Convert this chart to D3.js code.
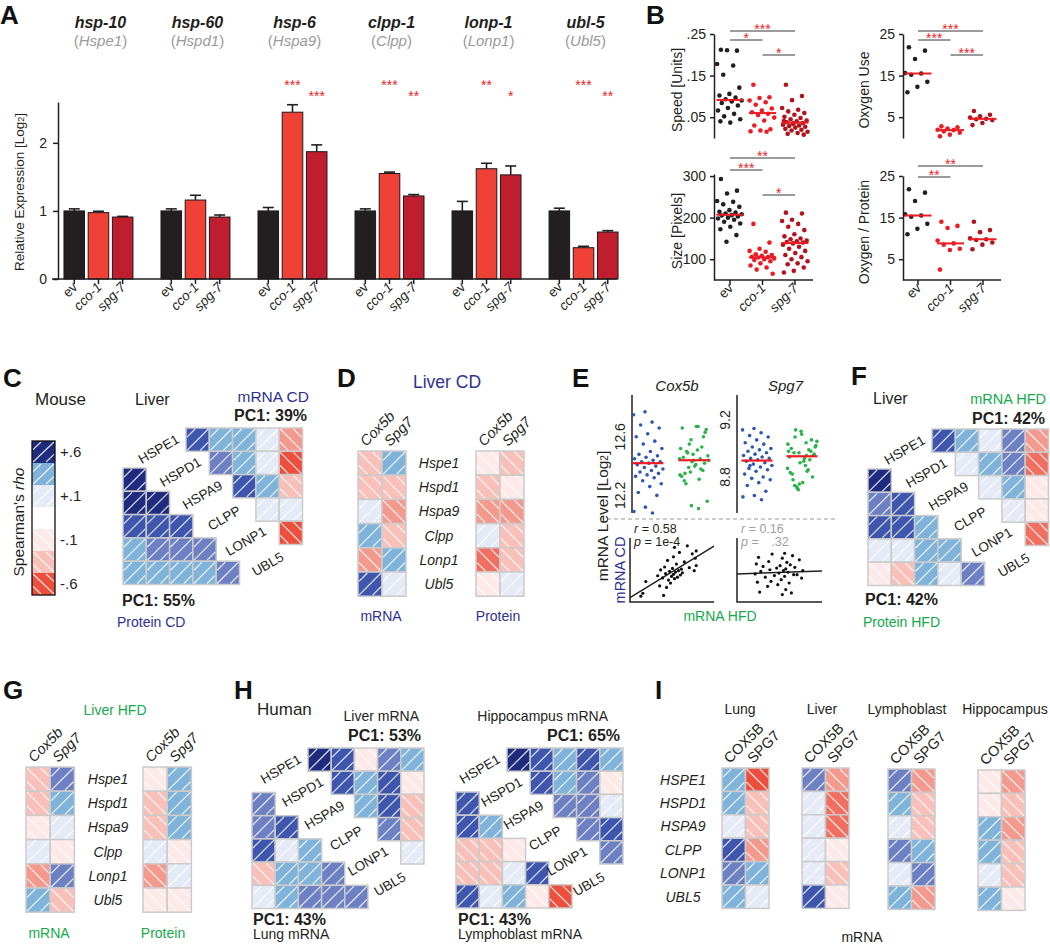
<!DOCTYPE html>
<html><head><meta charset="utf-8">
<script src="https://cdn.jsdelivr.net/npm/d3@7/dist/d3.min.js"></script>
<style>html,body{margin:0;padding:0;background:#fff}svg text{font-family:"Liberation Sans",Arial,Helvetica,sans-serif}</style>
</head><body>
<svg id="fig" width="1050" height="944" xmlns="http://www.w3.org/2000/svg"></svg>
<script>
// ================= DATA =================
// Panel A
const genesA = ["hsp-10","hsp-60","hsp-6","clpp-1","lonp-1","ubl-5"];
const orthologsA = ["Hspe1","Hspd1","Hspa9","Clpp","Lonp1","Ubl5"];
const conditions = ["ev","cco-1","spg-7"];
const exprEv  = [1.00,1.00,1.00,1.00,1.00,1.00];
const exprCco = [0.975,1.16,2.45,1.55,1.62,0.46];
const exprSpg = [0.91,0.91,1.87,1.22,1.53,0.69];
const errEv  = [0.03,0.03,0.05,0.03,0.14,0.04];
const errCco = [0.02,0.07,0.11,0.02,0.08,0.02];
const errSpg = [0.01,0.03,0.10,0.02,0.13,0.02];
const starsCco = ["","","***","***","**","***"];
const starsSpg = ["","","***","**","*","**"];
const ticksA = [0,1,2];

// Panel B
const speedEv  = [0.212,0.210,0.211,0.178,0.174,0.152,0.121,0.106,0.102,0.097,0.093,0.090,0.088,0.084,0.078,0.072,0.066,0.058,0.052,0.045,0.037,0.040];
const speedCco = [0.128,0.098,0.096,0.090,0.086,0.080,0.071,0.066,0.062,0.058,0.055,0.049,0.042,0.030,0.021,0.018,0.016,0.015];
const speedSpg = [0.128,0.101,0.091,0.072,0.068,0.064,0.060,0.056,0.051,0.048,0.045,0.042,0.040,0.038,0.036,0.034,0.032,0.030,0.029,0.027,0.025,0.022,0.020,0.018,0.015,0.012,0.010,0.008,0.036,0.041];
const sizeEv  = [293,265,258,240,238,232,226,218,214,212,210,208,206,205,203,200,198,195,190,186,178,172,158,142];
const sizeCco = [185,140,125,120,118,112,110,108,106,105,104,102,100,98,95,90,85,80,75,65];
const sizeSpg = [212,210,195,192,185,178,170,160,155,150,148,145,143,141,140,138,135,130,125,120,115,110,105,100,95,90,88,80,72,68];
const o2Ev  = [21.8,21.0,19.0,15.6,15.5,15.2,13.5,12.3,11.0];
const o2Cco = [2.8,2.6,2.3,2.0,1.9,1.6,1.3,0.8,0.4];
const o2Spg = [6.5,5.6,5.2,4.9,4.6,4.5,4.3,3.6,3.1];
const o2pEv  = [21.8,21.0,19.0,15.8,15.5,15.2,13.5,12.3,11.0];
const o2pCco = [14.0,13.0,12.5,9.5,8.8,8.5,7.5,7.2,2.5];
const o2pSpg = [14.0,12.0,11.5,10.0,9.8,9.6,9.0,8.5,7.4];
const speedTicks = [0.05,0.15,0.25];
const sizeTicks = [100,200,300];
const o2Ticks = [5,15,25];
const sigSpeed = [["ev","spg-7","***"],["ev","cco-1","*"],["cco-1","spg-7","*"]];
const sigSize  = [["ev","spg-7","**"],["ev","cco-1","***"],["cco-1","spg-7","*"]];
const sigO2    = [["ev","spg-7","***"],["ev","cco-1","***"],["cco-1","spg-7","***"]];
const sigO2p   = [["ev","spg-7","**"],["ev","cco-1","**"]];

// Panel C / F / H  (Spearman rho, upper and lower triangles)
const humanGenes = ["HSPE1","HSPD1","HSPA9","CLPP","LONP1","UBL5"];
const mouseGenes = ["Hspe1","Hspd1","Hspa9","Clpp","Lonp1","Ubl5"];
const legendRho = [0.7,0.3,0.08,0,-0.08,-0.22,-0.6];
const legendLabels = ["+.6","+.1","-.1","-.6"];
const cdMrnaRho = [[0.56,0.3,0.3,0.08,-0.36],[0.45,0.3,0.08,-0.58],[0.56,0.3,-0.22],[0.08,0.08],[-0.58]];
const cdProteinRho = [[0.7],[0.7,0.7],[0.56,0.56,0.56],[0.3,0.45,0.45,0.45],[0.3,0.3,0.3,0.3,0.45]];
const hfdMrnaRho = [[0.56,0.3,0.08,0.45,-0.36],[0.08,0.3,0.45,-0.46],[0.08,0.3,-0.08],[0.08,-0.08],[-0.46]];
const hfdProteinRho = [[0.7],[0.45,0.56],[0.56,0.56,0.3],[0.08,0.08,0.3,0.3],[-0.08,-0.22,0.3,0.08,0.45]];
const hLiverRho = [[0.7,0.56,-0.08,0.45,0.3],[0.56,0.3,0.56,-0.08],[0.3,0.6,-0.22],[0.45,-0.22],[0.08]];
const hLungRho = [[0.45],[0.45,0.56],[0.56,0.08,0.3],[-0.22,0.3,0.3,0.45],[0.08,0.3,0.45,0.45,0.45]];
const hHippoRho = [[0.7,0.56,0.3,0.6,0.3],[0.56,0.3,0.45,-0.08],[0.45,0.45,0.08],[0.45,0.56],[0.45]];
const hLymphoRho = [[0.56],[0.6,0.3],[-0.22,-0.22,-0.08],[-0.22,-0.22,0.08,0.56],[0.56,0.08,0.3,-0.08,-0.58]];

// Panel D / G
const dMrnaCox = [-0.22,-0.22,0.08,0.3,-0.36,0.56];
const dMrnaSpg = [0.3,-0.22,-0.36,-0.22,0.3,0.08];
const dProtCox = [-0.08,-0.22,-0.36,0.08,-0.46,-0.08];
const dProtSpg = [-0.22,-0.08,-0.36,-0.22,-0.22,0.08];
const gMrnaCox = [-0.22,-0.22,-0.08,0.08,-0.36,0.3];
const gMrnaSpg = [0.45,0.3,0.08,-0.08,0.45,-0.22];
const gProtCox = [-0.08,-0.22,-0.22,0.08,-0.36,-0.08];
const gProtSpg = [0.3,0.3,0.3,-0.08,0.08,-0.08];

// Panel I
const tissuesI = ["Lung","Liver","Lymphoblast","Hippocampus"];
const lungCox = [0.3,0.3,0.08,0.56,0.45,0.3];
const lungSpg = [-0.58,-0.22,-0.22,-0.36,0.3,0.08];
const liverCox = [0.45,0.08,0.08,0.08,0.08,0.6];
const liverSpg = [-0.36,-0.46,-0.46,-0.08,-0.22,-0.08];
const lymphoCox = [0.45,0.3,0.08,0.45,0.08,0.3];
const lymphoSpg = [-0.36,-0.22,-0.22,0.3,0.45,-0.36];
const hippoCox = [-0.08,-0.08,0.3,0.3,0.08,0.3];
const hippoSpg = [-0.36,-0.22,-0.36,-0.22,-0.22,-0.08];

// Panel E (mRNA log2, CD = blue, HFD = green, paired by mouse)
const cox5bCD  = [12.77,12.75,12.70,12.68,12.66,12.62,12.60,12.57,12.55,12.52,12.50,12.48,12.47,12.46,12.45,12.44,12.43,12.43,12.42,12.41,12.40,12.39,12.38,12.37,12.36,12.35,12.34,12.33,12.32,12.30,12.28,12.26,12.22,12.20,12.12,12.09,12.08];
const cox5bHFD = [12.58,12.45,12.67,12.50,12.63,12.44,12.66,12.38,12.55,12.47,12.67,12.35,12.60,12.43,12.52,12.31,12.49,12.65,12.40,12.46,12.53,12.36,12.44,12.51,12.28,12.42,12.48,12.33,12.45,12.39,12.16,12.41,12.30,12.37,12.13,12.34,12.11];
const spg7CD  = [9.14,9.13,9.11,9.09,9.08,9.06,9.04,9.03,9.01,9.00,8.99,8.98,8.97,8.96,8.95,8.94,8.93,8.93,8.92,8.91,8.90,8.89,8.88,8.87,8.86,8.85,8.84,8.82,8.80,8.79,8.78,8.76,8.74,8.70,8.67,8.66,8.64,8.88];
const spg7HFD = [8.97,8.86,9.04,8.74,8.95,9.10,8.83,8.99,8.72,9.02,8.93,8.78,9.06,8.90,8.98,8.84,9.13,8.96,8.76,9.00,8.92,8.71,9.05,8.88,8.97,8.80,9.12,8.94,8.85,8.73,9.01,8.91,8.82,8.98,8.75,9.03,8.95,9.08];
const corrText = [["0.58","1e-4"],["0.16",".32"]];

// ================= DRAWING =================
const svg = d3.select("#fig");
const INK = "#231f20", BLUE_T = "#2e3192", GREEN_T = "#14a94b", RED_S = "#ed1c24";
const barColors = ["#231f20","#ef4136","#be1e2d"];
const dotColors = ["#231f20","#ec1c24","#b3121c"];

function T(g, x, y, s, o = {}) {
  const t = g.append("text").attr("x", x).attr("y", y).text(s)
    .attr("font-size", o.size || 14).attr("fill", o.fill || INK)
    .attr("text-anchor", o.anchor || "start");
  if (o.weight) t.attr("font-weight", o.weight);
  if (o.italic) t.attr("font-style", "italic");
  if (o.rotate !== undefined) t.attr("transform", `rotate(${o.rotate},${x},${y})`);
  if (o.dy) t.attr("dy", o.dy);
  return t;
}
function styleAxis(ax, fs) {
  ax.attr("font-family", null).attr("font-size", null);
  ax.select(".domain").attr("stroke", INK).attr("stroke-width", 1.5);
  ax.selectAll(".tick line").attr("stroke", INK).attr("stroke-width", 1.5);
  ax.selectAll(".tick text").attr("font-size", fs).attr("fill", INK);
}

const rhoColor = d3.scaleThreshold()
  .domain([-0.5,-0.42,-0.3,-0.15,-0.03,0.03,0.15,0.38,0.5,0.63])
  .range(["#ee4f3c","#f16f60","#f4998d","#f8c0b8","#fde9e7","#ffffff","#e4eaf6","#80b3da","#6d80c4","#3e56ad","#1f2b7e"]);

function hatchPath(x, y, w, h, v) {
  if (Math.abs(v) < 0.03) return "";
  if (v > 0) return `M${x},${y+h}L${x+w},${y}M${x},${y+h*0.38}L${x+w*0.38},${y}M${x+w*0.62},${y+h}L${x+w},${y+h*0.62}`;
  return `M${x},${y}L${x+w},${y+h}M${x},${y+h*0.62}L${x+w*0.38},${y+h}M${x+w*0.62},${y}L${x+w},${y+h*0.38}`;
}
function cell(g, x, y, w, h, v, border = true) {
  g.append("rect").attr("x", x).attr("y", y).attr("width", w).attr("height", h)
    .attr("fill", rhoColor(v)).attr("stroke", border ? "#cbcbcb" : "none").attr("stroke-width", 1.5);
  g.append("path").attr("d", hatchPath(x + 1, y + 1, w - 2, h - 2, v))
    .attr("stroke", "#fff").attr("stroke-width", 1.2).attr("stroke-opacity", 0.85).attr("fill", "none");
}

// panel letters
[["A",0,24],["B",646,24],["C",3,387],["D",337,387],["E",572,387],["F",851,385],["G",3,699],["H",234,699],["I",655,699]]
  .forEach(d => T(svg, d[1], d[2], d[0], {size: 26, weight: "bold", fill: "#111"}));

// ---------- Panel A ----------
const gA = svg.append("g");
const xA = d3.scaleBand().domain(genesA).range([50, 632]).paddingInner(0.289).paddingOuter(0.144);
const xAi = d3.scaleBand().domain(conditions).range([0, xA.bandwidth()]).paddingInner(0.15);
const yA = d3.scaleLinear().domain([0, 2.6]).range([279, 102]);
const seriesA = [exprEv, exprCco, exprSpg], errA = [errEv, errCco, errSpg], starsA = [null, starsCco, starsSpg];
genesA.forEach((gn, gi) => {
  conditions.forEach((c, ci) => {
    const v = seriesA[ci][gi], e = errA[ci][gi];
    const x = xA(gn) + xAi(c), w = xAi.bandwidth(), cx = x + w / 2;
    gA.append("line").attr("x1", cx).attr("x2", cx).attr("y1", yA(v)).attr("y2", yA(v + e)).attr("stroke", INK).attr("stroke-width", 1.6);
    gA.append("line").attr("x1", cx - 5.5).attr("x2", cx + 5.5).attr("y1", yA(v + e)).attr("y2", yA(v + e)).attr("stroke", INK).attr("stroke-width", 1.6);
    gA.append("rect").attr("x", x).attr("y", yA(v)).attr("width", w).attr("height", yA(0) - yA(v))
      .attr("fill", barColors[ci]).attr("stroke", "#1a1a1a").attr("stroke-width", 1);
    gA.append("line").attr("x1", cx).attr("x2", cx).attr("y1", 279).attr("y2", 284).attr("stroke", INK).attr("stroke-width", 1.5);
    T(gA, cx + 4, 288, c, {size: 13.5, anchor: "end", rotate: -45, italic: c !== "ev"});
    if (ci > 0 && starsA[ci][gi]) T(gA, cx, ci === 1 ? 90 : 101, starsA[ci][gi], {size: 14, fill: RED_S, anchor: "middle"});
  });
  const gc = xA(gn) + xA.bandwidth() / 2 + 2;
  T(gA, gc, 28, gn, {size: 16, weight: "bold", italic: true, anchor: "middle"});
  const t = T(gA, gc, 46, "(", {size: 15, fill: "#9a9a9a", anchor: "middle"});
  t.append("tspan").attr("font-style", "italic").text(orthologsA[gi]);
  t.append("tspan").text(")");
});
gA.append("line").attr("x1", 52).attr("x2", 617).attr("y1", 279).attr("y2", 279).attr("stroke", INK).attr("stroke-width", 1.5);
const axA = gA.append("g").attr("transform", "translate(58,0)")
  .call(d3.axisLeft(yA).tickValues(ticksA).tickFormat(d3.format("d")).tickSize(5).tickSizeOuter(0).tickPadding(6));
styleAxis(axA, 14);
{
  const t = T(gA, 24, 192, "Relative Expression [Log", {size: 13.5, anchor: "middle", rotate: -90});
  t.append("tspan").attr("font-size", 9).text("2");
  t.append("tspan").text("]");
}

// ---------- Panel B ----------
const plotsB = [
  {label: "Speed [Units]", groups: [speedEv, speedCco, speedSpg], domain: [0, 0.25], range: [138, 34], ax: 714, xr: [730, 795], ticks: speedTicks, fmt: d => d3.format(".2f")(d).slice(1), sig: sigSpeed, sigY: [31, 40, 55], labelX: 677, xAxis: false},
  {label: "Size [Pixels]", groups: [sizeEv, sizeCco, sizeSpg], domain: [50, 305], range: [280, 174], ax: 714, xr: [730, 795], ticks: sizeTicks, fmt: d3.format("d"), sig: sigSize, sigY: [158, 170, 195], labelX: 677, xAxis: true},
  {label: "Oxygen Use", groups: [o2Ev, o2Cco, o2Spg], domain: [0, 25], range: [138, 34], ax: 903, xr: [918, 983], ticks: o2Ticks, fmt: d3.format("d"), sig: sigO2, sigY: [31, 40, 55], labelX: 864, xAxis: false},
  {label: "Oxygen / Protein", groups: [o2pEv, o2pCco, o2pSpg], domain: [0, 25], range: [280, 176], ax: 903, xr: [918, 983], ticks: o2Ticks, fmt: d3.format("d"), sig: sigO2p, sigY: [166, 177], labelX: 864, xAxis: true}
];
plotsB.forEach(p => {
  const g = svg.append("g");
  const y = d3.scaleLinear().domain(p.domain).range(p.range);
  const x = d3.scalePoint().domain(conditions).range(p.xr);
  const ax = g.append("g").attr("transform", `translate(${p.ax},0)`)
    .call(d3.axisLeft(y).tickValues(p.ticks).tickFormat(p.fmt).tickSize(4).tickSizeOuter(0).tickPadding(4));
  styleAxis(ax, 14);
  if (p.xAxis) {
    const yb = p.range[0];
    g.append("line").attr("x1", p.ax).attr("x2", p.xr[1] + 18).attr("y1", yb).attr("y2", yb).attr("stroke", INK).attr("stroke-width", 1.5);
    conditions.forEach(c => {
      g.append("line").attr("x1", x(c)).attr("x2", x(c)).attr("y1", yb).attr("y2", yb + 5).attr("stroke", INK).attr("stroke-width", 1.5);
      T(g, x(c) + 4, yb + 9, c, {size: 13.5, anchor: "end", rotate: -45, italic: c !== "ev"});
    });
  }
  p.groups.forEach((arr, ci) => {
    const c = conditions[ci];
    arr.forEach((v, i) => {
      const jit = (((i * 0.6180339887) + 0.15) % 1 - 0.5) * 26;
      g.append("circle").attr("cx", x(c) + jit).attr("cy", y(v)).attr("r", 2.3).attr("fill", dotColors[ci]);
    });
    const m = d3.median(arr);
    g.append("line").attr("x1", x(c) - 13.5).attr("x2", x(c) + 13.5).attr("y1", y(m)).attr("y2", y(m)).attr("stroke", RED_S).attr("stroke-width", 2);
  });
  p.sig.forEach((s, k) => {
    const yy = p.sigY[k];
    g.append("line").attr("x1", x(s[0])).attr("x2", x(s[1])).attr("y1", yy).attr("y2", yy).attr("stroke", "#7a7a7a").attr("stroke-width", 1.3);
    T(g, (x(s[0]) + x(s[1])) / 2, yy + 3, s[2], {size: 14, fill: RED_S, anchor: "middle"});
  });
  T(g, p.labelX, (p.range[0] + p.range[1]) / 2 + 4, p.label, {size: 14, anchor: "middle", rotate: -90, dy: "0.35em"});
});

// ---------- Panel C ----------
const gC = svg.append("g");
T(gC, 35, 405, "Mouse", {size: 17});
{
  const yL = d3.scaleBand().domain(d3.range(legendRho.length)).range([441, 595]);
  legendRho.forEach((v, i) => cell(gC, 32, yL(i), 23, yL.bandwidth(), v, false));
  gC.append("rect").attr("x", 32).attr("y", 441).attr("width", 23).attr("height", 154).attr("fill", "none").attr("stroke", "#111").attr("stroke-width", 1.3);
  legendLabels.forEach((l, k) => T(gC, 60, yL(k * 2) + yL.bandwidth() / 2, l, {size: 15, dy: "0.35em"}));
  const t = T(gC, 19, 522, "Spearman's ", {size: 15.5, anchor: "middle", rotate: -90, dy: "0.35em"});
  t.append("tspan").attr("font-style", "italic").text("rho");
}
function triangle(g, genes, upper, lower, ux0, uy0, lx0, ly0, s) {
  const xu = d3.scaleBand().domain(genes).range([ux0, ux0 + 6 * s]);
  const yu = d3.scaleBand().domain(genes).range([uy0, uy0 + 6 * s]);
  upper.forEach((row, i) => row.forEach((v, k) => cell(g, xu(genes[i + 1 + k]), yu(genes[i]), s, s, v)));
  const xl = d3.scaleBand().domain(genes).range([lx0, lx0 + 6 * s]);
  const yl = d3.scaleBand().domain(genes).range([ly0 - s, ly0 + 5 * s]);
  lower.forEach((row, k) => row.forEach((v, j) => cell(g, xl(genes[j]), yl(genes[k + 1]), s, s, v)));
  genes.forEach((gn, i) => T(g, ux0 - 4 + i * 21.8, uy0 + 21 + i * 23, gn, {size: 13.5, anchor: "middle", rotate: -30, dy: "0.35em"}));
}
triangle(gC, humanGenes, cdMrnaRho, cdProteinRho, 162.7, 428, 123, 468, 23.3);
T(gC, 135, 405, "Liver", {size: 16});
T(gC, 309, 402, "mRNA CD", {size: 15.5, fill: BLUE_T, anchor: "end"});
T(gC, 307, 421, "PC1: 39%", {size: 16, weight: "bold", anchor: "end"});
T(gC, 122, 606, "PC1: 55%", {size: 16, weight: "bold"});
T(gC, 117, 627, "Protein CD", {size: 14, fill: BLUE_T});

// ---------- column heatmaps (D, G, I) ----------
function colHeat(g, x0, y0, cw, ch, cols, colNames, italic) {
  const xs = d3.scaleBand().domain(colNames).range([x0, x0 + cw * colNames.length]);
  const ys = d3.scaleBand().domain(d3.range(cols[0].length)).range([y0, y0 + ch * cols[0].length]);
  cols.forEach((arr, ci) => arr.forEach((v, ri) => cell(g, xs(colNames[ci]), ys(ri), cw, ch, v)));
  colNames.forEach(cn => T(g, xs(cn) + cw / 2 - 4, y0 - 4, cn, {size: 14.5, italic: italic, rotate: -45}));
  return ys;
}
function rowLabels(g, cx, ys, names, italic) {
  names.forEach((n, i) => T(g, cx, ys(i) + ys.bandwidth() / 2, n, {size: 14, italic: italic, anchor: "middle", dy: "0.35em"}));
}
// D
const gD = svg.append("g");
T(gD, 447, 388, "Liver CD", {size: 17.5, fill: BLUE_T, anchor: "middle"});
const ysD = colHeat(gD, 358, 451, 24, 24.2, [dMrnaCox, dMrnaSpg], ["Cox5b", "Spg7"], true);
colHeat(gD, 476, 451, 24, 24.2, [dProtCox, dProtSpg], ["Cox5b", "Spg7"], true);
rowLabels(gD, 439, ysD, mouseGenes, true);
T(gD, 381, 621, "mRNA", {size: 14, fill: BLUE_T, anchor: "middle"});
T(gD, 498, 621, "Protein", {size: 14, fill: BLUE_T, anchor: "middle"});
// G
const gG = svg.append("g");
T(gG, 115, 715, "Liver HFD", {size: 14, fill: GREEN_T, anchor: "middle"});
const ysG = colHeat(gG, 26, 767, 24.2, 24.2, [gMrnaCox, gMrnaSpg], ["Cox5b", "Spg7"], true);
colHeat(gG, 143, 767, 24.2, 24.2, [gProtCox, gProtSpg], ["Cox5b", "Spg7"], true);
rowLabels(gG, 108, ysG, mouseGenes, true);
T(gG, 49, 938, "mRNA", {size: 14, fill: GREEN_T, anchor: "middle"});
T(gG, 163, 938, "Protein", {size: 14, fill: GREEN_T, anchor: "middle"});
// I
const gI = svg.append("g");
const iCols = [[lungCox, lungSpg], [liverCox, liverSpg], [lymphoCox, lymphoSpg], [hippoCox, hippoSpg]];
const iX = [722, 802, 888, 978], iY = [768, 768, 769, 770], iTitleX = [740, 822, 907, 1005];
let ysI;
tissuesI.forEach((tn, k) => {
  const ys = colHeat(gI, iX[k], iY[k], 23.5, 23.4, iCols[k], ["COX5B", "SPG7"], false);
  if (k === 0) ysI = ys;
  T(gI, iTitleX[k], 714, tn, {size: 14, anchor: "middle"});
});
rowLabels(gI, 683, ysI, humanGenes, true);
T(gI, 862, 942, "mRNA", {size: 14, anchor: "middle"});

// ---------- Panel E ----------
const gE = svg.append("g");
const stripDefs = [
  {title: "Cox5b", cd: cox5bCD, hfd: cox5bHFD, domain: [12.08, 12.885], ticks: [12.2, 12.6], ax: 632, xc: [648, 694],
   bx: [12.0, 12.85], bxr: [630, 714], corr: corrText[0], tc: INK},
  {title: "Spg7", cd: spg7CD, hfd: spg7HFD, domain: [8.547, 9.375], ticks: [8.8, 9.2], ax: 737, xc: [757, 802],
   bx: [8.55, 9.3], bxr: [737, 822], corr: corrText[1], tc: "#a0a0a0"}
];
stripDefs.forEach(s => {
  const y = d3.scaleLinear().domain(s.domain).range([513, 395]);
  gE.append("line").attr("x1", s.ax).attr("x2", s.ax).attr("y1", 395).attr("y2", 513).attr("stroke", INK).attr("stroke-width", 1.5);
  s.ticks.forEach(tv => T(gE, s.ax - 12, y(tv), d3.format(".1f")(tv), {size: 14, anchor: "middle", rotate: -90, dy: "0.35em"}));
  [[s.cd, "#2f56b0"], [s.hfd, "#2bb34a"]].forEach((pair, k) => {
    pair[0].forEach((v, i) => {
      const jit = (((i * 0.6180339887) + 0.4) % 1 - 0.5) * 30;
      gE.append("circle").attr("cx", s.xc[k] + jit).attr("cy", y(v)).attr("r", 1.8).attr("fill", pair[1]);
    });
    const m = d3.median(pair[0]);
    gE.append("line").attr("x1", s.xc[k] - 15.5).attr("x2", s.xc[k] + 15.5).attr("y1", y(m)).attr("y2", y(m)).attr("stroke", RED_S).attr("stroke-width", 2.2);
  });
  T(gE, (s.xc[0] + s.xc[1]) / 2 + 6, 391, s.title, {size: 15, italic: true, anchor: "middle"});
  // bottom scatter
  const bx = d3.scaleLinear().domain(s.bx).range(s.bxr);
  const by = d3.scaleLinear().domain(s.bx).range([602, 540]);
  gE.append("path").attr("d", `M${s.bxr[0]},538V602H${s.bxr[1]}`).attr("fill", "none").attr("stroke", INK).attr("stroke-width", 1.5);
  const mx = d3.mean(s.hfd), my = d3.mean(s.cd);
  const slope = d3.sum(s.hfd, (v, i) => (v - mx) * (s.cd[i] - my)) / d3.sum(s.hfd, v => (v - mx) * (v - mx));
  const yAt = xv => my + slope * (xv - mx);
  gE.append("line").attr("x1", bx(s.bx[0])).attr("x2", bx(s.bx[1])).attr("y1", by(yAt(s.bx[0]))).attr("y2", by(yAt(s.bx[1])))
    .attr("stroke", INK).attr("stroke-width", 1.5);
  s.hfd.forEach((v, i) => gE.append("circle").attr("cx", bx(v)).attr("cy", by(s.cd[i])).attr("r", 1.6).attr("fill", "#111"));
  const r = T(gE, s.bxr[0] + 4, 533, "", {size: 12.5, fill: s.tc});
  r.append("tspan").attr("font-style", "italic").text("r");
  r.append("tspan").text(" = " + s.corr[0]);
  const pt = T(gE, s.bxr[0] + 4, 546, "", {size: 12.5, fill: s.tc});
  pt.append("tspan").attr("font-style", "italic").text("p");
  pt.append("tspan").text(" = ");
  pt.append("tspan").attr("dx", s.title === "Spg7" ? 9 : 0).text(s.corr[1]);
});
gE.append("line").attr("x1", 600).attr("x2", 838).attr("y1", 519).attr("y2", 519).attr("stroke", "#9a9a9a").attr("stroke-width", 1.2).attr("stroke-dasharray", "4,3");
{
  const t = T(gE, 603, 516, "mRNA Level [Log", {size: 15.5, anchor: "middle", rotate: -90, dy: "0.35em"});
  t.append("tspan").attr("font-size", 10).text("2");
  t.append("tspan").text("]");
}
T(gE, 620, 570, "mRNA CD", {size: 14.5, fill: BLUE_T, anchor: "middle", rotate: -90, dy: "0.35em"});
T(gE, 720, 621, "mRNA HFD", {size: 14, fill: GREEN_T, anchor: "middle"});

// ---------- Panel F ----------
const gF = svg.append("g");
triangle(gF, humanGenes, hfdMrnaRho, hfdProteinRho, 908.7, 429, 868, 469, 23.3);
T(gF, 873, 404, "Liver", {size: 16});
T(gF, 1046, 404, "mRNA HFD", {size: 14.5, fill: GREEN_T, anchor: "end"});
T(gF, 1045, 424, "PC1: 42%", {size: 16, weight: "bold", anchor: "end"});
T(gF, 865, 605, "PC1: 42%", {size: 16, weight: "bold"});
T(gF, 863, 627, "Protein HFD", {size: 14, fill: GREEN_T});

// ---------- Panel H ----------
const gH = svg.append("g");
T(gH, 257, 715, "Human", {size: 17});
triangle(gH, humanGenes, hLiverRho, hLungRho, 284.8, 748, 252, 792.5, 23.2);
T(gH, 419, 721, "Liver mRNA", {size: 14, anchor: "end"});
T(gH, 421, 741, "PC1: 53%", {size: 16, weight: "bold", anchor: "end"});
T(gH, 253, 925, "PC1: 43%", {size: 16, weight: "bold"});
T(gH, 253, 939, "Lung mRNA", {size: 14});
triangle(gH, humanGenes, hHippoRho, hLymphoRho, 483.8, 748, 456, 792, 23.2);
T(gH, 608, 721, "Hippocampus mRNA", {size: 14, anchor: "end"});
T(gH, 620, 741, "PC1: 65%", {size: 16, weight: "bold", anchor: "end"});
T(gH, 458, 925, "PC1: 43%", {size: 16, weight: "bold"});
T(gH, 458, 939, "Lymphoblast mRNA", {size: 14});
</script></body></html>
